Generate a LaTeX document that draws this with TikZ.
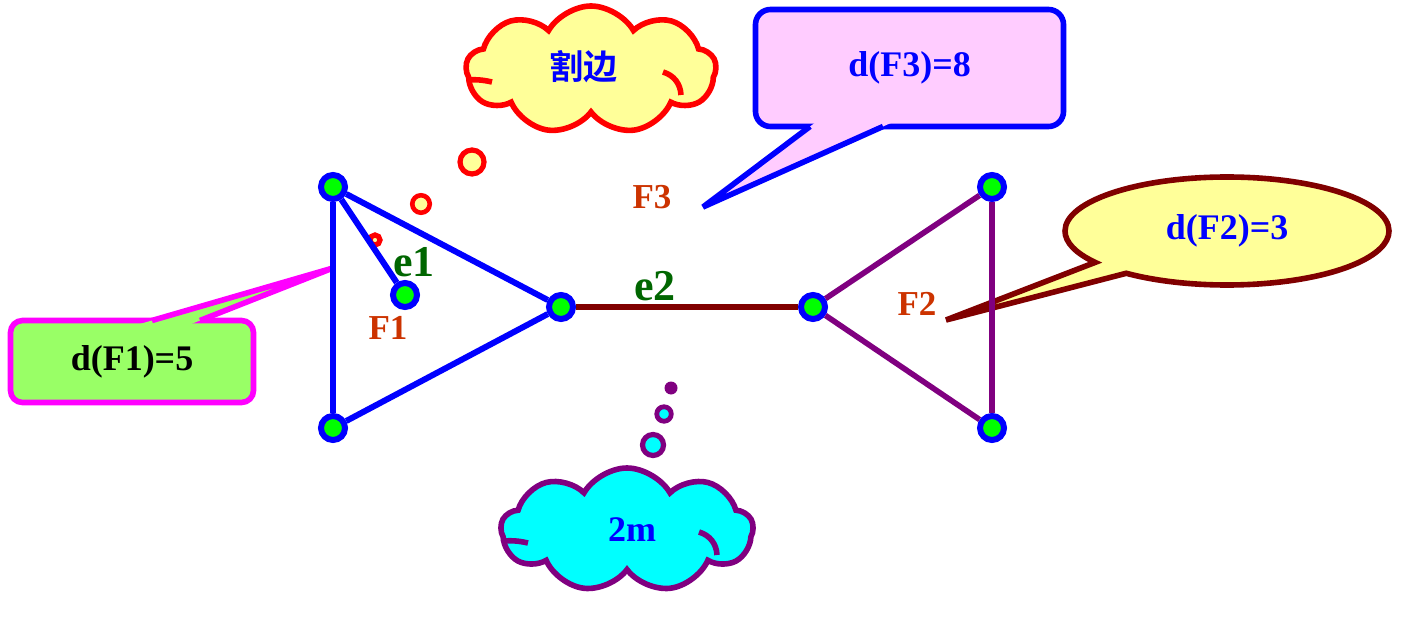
\documentclass[tikz,border=0pt]{standalone}
\usepackage{xcolor}
\usepackage{fontspec}
\setmainfont{Liberation Serif}
\newfontfamily\cjk{Noto Sans CJK SC}[BoldFont={Noto Sans CJK SC Bold}]
\usepackage{tikz}
\usetikzlibrary{shapes.symbols,shapes.callouts,calc}

\definecolor{vgreen}{HTML}{00FF00}
\definecolor{ecolor}{HTML}{006600}
\definecolor{fcolor}{HTML}{CC3300}
\definecolor{cutred}{HTML}{800000}
\definecolor{vpurple}{HTML}{800080}
\definecolor{paleyellow}{HTML}{FFFF99}
\definecolor{palepink}{HTML}{FFCCFF}
\definecolor{palegreen}{HTML}{99FF66}
\definecolor{vmagenta}{HTML}{FF00FF}
\definecolor{vcyan}{HTML}{00FFFF}

\begin{document}
\begin{tikzpicture}[x=0.5pt,y=-0.5pt]
			\tikzstyle{vertex} = [circle, draw=blue, fill=vgreen, line width=3pt, minimum size=12pt, inner sep=0pt]
			\tikzstyle{facename} = [text=fcolor, font=\fontsize{17.5}{20}\selectfont\bfseries]
			\tikzstyle{edgename} = [text=ecolor, font=\fontsize{22}{25}\selectfont\bfseries]
			\tikzstyle{note} = [line width=2.8pt, inner sep=0pt, font=\fontsize{18}{21}\selectfont\bfseries]
			\tikzstyle{puff} = [circle, line width=2.6pt, inner sep=0pt]
			\tikzstyle{bigcloud} = [cloud, cloud puffs=9, cloud puff arc=120, cloud ignores aspect, line width=2.8pt]
			\tikzset{blueline/.style = {draw=blue, line width=3pt}}
			\tikzset{purpleline/.style = {draw=vpurple, line width=2.8pt}}
			\tikzset{pointer/.style = {line width=2.8pt, miter limit=4}}
			
			\useasboundingbox (0,0) rectangle (1412,620);
			
			\node[vertex](v1) at (333,187) {};
			\node[vertex](v2) at (333,428) {};
			\node[vertex](v3) at (561,307) {};
			\node[vertex](v4) at (405,295) {};
			\node[vertex](v5) at (813,307) {};
			\node[vertex](v6) at (992,187) {};
			\node[vertex](v7) at (992,428) {};
			
			\node[facename](f1) at (388,328) {F1};
			\node[facename](f2) at (917,304) {F2};
			\node[facename](f3) at (652,197) {F3};
			\node[edgename](e1) at (414,262) {e1};
			\node[edgename](e2) at (655,286) {e2};
			
			% cloud over the cut edge
			\node[bigcloud, draw=red, fill=paleyellow, minimum width=125pt, minimum height=64pt](cloud1) at (591,70) {};
			\node[text=blue, font=\cjk\bfseries\fontsize{17}{20}\selectfont](cut) at (583,67) {割边};
			\draw[red, line width=2.8pt] (467,80) to[bend left=8] (492,82);
			\draw[red, line width=2.8pt] (663,72) to[bend left=35] (681,95);
			\node[puff, draw=red, fill=paleyellow, minimum size=12pt](puff1) at (472,162) {};
			\node[puff, draw=red, fill=paleyellow, minimum size=8.75pt, line width=2.3pt](puff2) at (421,204) {};
			\node[puff, draw=red, fill=paleyellow, minimum size=5pt](puff3) at (375,240) {};
			
			% cloud under the cut edge
			\node[bigcloud, draw=vpurple, fill=vcyan, minimum width=126pt, minimum height=62pt](cloud2) at (627,530) {};
			\node[text=blue, font=\fontsize{18}{21}\selectfont\bfseries](twom) at (632,530) {2m};
			\draw[vpurple, line width=2.8pt] (503,541) to[bend left=8] (528,543);
			\draw[vpurple, line width=2.8pt] (699,532) to[bend left=35] (717,555);
			\node[puff, draw=vpurple, fill=vcyan, minimum size=10.5pt](puff4) at (653,445) {};
			\node[puff, draw=vpurple, fill=vcyan, minimum size=7.25pt, line width=2.4pt](puff5) at (664,414) {};
			\node[puff, fill=vpurple, minimum size=6.5pt, line width=0pt](puff6) at (671,388) {};
			
			% d(F3)
			\node[note, draw=blue, fill=palepink, text=blue, rounded corners=7.5pt, minimum width=154pt, minimum height=58.5pt](note3) at (909.5,68) {d(F3)=8};
			\coordinate (tip3) at (703,207);
			\coordinate (base3a) at (810,126.5);
			\coordinate (base3b) at (883,126.5);
			\fill[palepink] ($(tip3)!1.15!(base3a)$) -- (tip3) -- ($(tip3)!1.15!(base3b)$) -- cycle;
			\draw[pointer, blue] (base3a) -- (tip3) -- (base3b);
			
			% d(F1)
			\node[note, draw=vmagenta, fill=palegreen, text=black, rounded corners=6pt, minimum width=121.5pt, minimum height=41pt](note1) at (132,361.5) {d(F1)=5};
			\coordinate (tip1) at (333,268);
			\coordinate (base1a) at (152,320.5);
			\coordinate (base1b) at (200,320.5);
			\fill[palegreen] ($(tip1)!1.1!(base1a)$) -- (tip1) -- ($(tip1)!1.1!(base1b)$) -- cycle;
			\draw[pointer, vmagenta] (base1a) -- (tip1) -- (base1b);
			
			% d(F2)
			\coordinate (tip2) at (946,320);
			\node[note, ellipse callout, draw=cutred, fill=paleyellow, text=blue, minimum width=162pt, minimum height=54pt, callout absolute pointer={(tip2)}, callout pointer arc=16](note2) at (1227,231) {d(F2)=3};
			
			\draw[blueline](v1) to (v2);
			\draw[blueline](v1) to (v3);
			\draw[blueline](v2) to (v3);
			\draw[blueline](v1) to (v4);
			\draw[draw=cutred, line width=2.8pt](v3) to (v5);
			\draw[purpleline](v5) to (v6);
			\draw[purpleline](v5) to (v7);
			\draw[purpleline](v6) to (v7);
			
\end{tikzpicture}
\end{document}
